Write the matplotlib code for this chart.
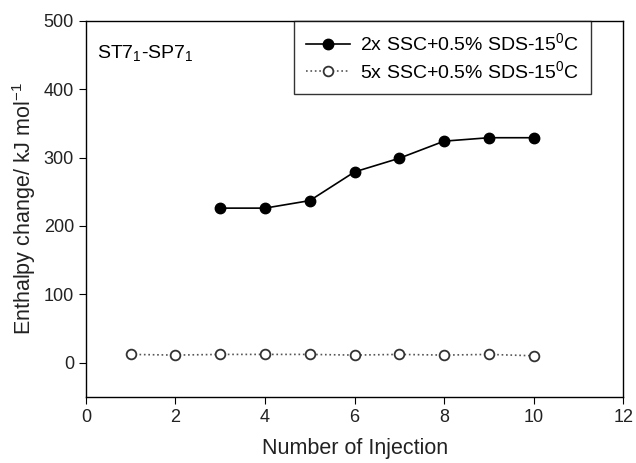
import matplotlib
matplotlib.use("Agg")
import matplotlib.pyplot as plt

plt.rcParams['font.family'] = ['Liberation Sans', 'DejaVu Sans']
plt.rcParams['mathtext.fontset'] = 'custom'
plt.rcParams['mathtext.rm'] = 'Liberation Sans'
plt.rcParams['mathtext.it'] = 'Liberation Sans'
plt.rcParams['mathtext.default'] = 'regular'

x_filled = [3, 4, 5, 6, 7, 8, 9, 10]
y_filled = [226, 226, 237, 279, 299, 324, 329, 329]
x_open = [1, 2, 3, 4, 5, 6, 7, 8, 9, 10]
y_open = [12, 11, 12, 12, 12, 11, 12, 11, 12, 10]
label_filled = '2x SSC+0.5% SDS-15$^{0}$C'
label_open = '5x SSC+0.5% SDS-15$^{0}$C'

fig = plt.figure(figsize=(6.36, 4.63), dpi=100)
ax = fig.add_axes([0.135, 0.143, 0.845, 0.812])

ax.plot(x_filled, y_filled, '-', color='black', lw=1.2, marker='o', ms=7.5,
        mfc='black', mec='black', label=label_filled)
ax.plot(x_open, y_open, ':', color='#555555', lw=1.2, marker='o', ms=7,
        mfc='white', mec='#333333', mew=1.3, label=label_open)

ax.set_xlim(0, 12)
ax.set_ylim(-50, 500)
ax.set_xticks(range(0, 13, 2))
ax.set_yticks(range(0, 501, 100))
ax.tick_params(direction='out', labelsize=13, length=5, top=False, right=False,
               labelcolor='#222222')
for s in ax.spines.values():
    s.set_linewidth(1.0)

ax.set_xlabel('Number of Injection', fontsize=15.5, labelpad=9, color='#222222')
ax.set_ylabel('Enthalpy change/ kJ mol$^{-1}$', fontsize=15.5, labelpad=4,
              color='#222222')

ax.text(0.02, 0.94, 'ST7$_1$-SP7$_1$', transform=ax.transAxes, fontsize=14,
        ha='left', va='top')

leg = ax.legend(loc='upper right', bbox_to_anchor=(0.94, 1.0), fontsize=14,
                frameon=True, fancybox=False, edgecolor='black',
                borderpad=0.6, borderaxespad=0.0, handlelength=2.3,
                handletextpad=0.5, labelspacing=0.3)
leg.get_frame().set_linewidth(1.0)

fig.savefig('out.png', dpi=100)
